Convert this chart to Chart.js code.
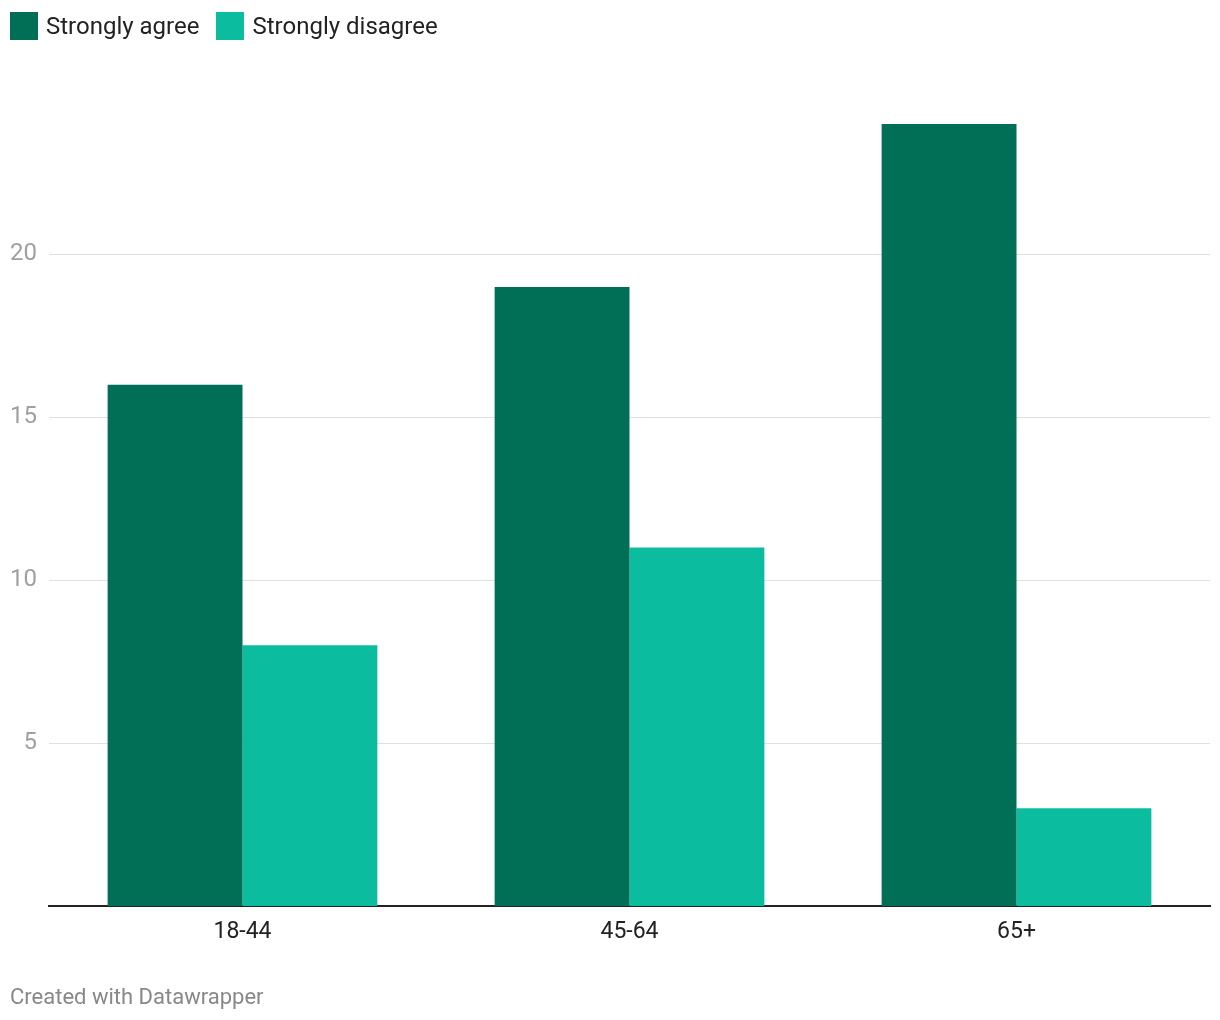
<!DOCTYPE html>
<html>
<head>
<meta charset="utf-8">
<script src="https://cdn.jsdelivr.net/npm/chart.js@4.4.1/dist/chart.umd.min.js"></script>
<style>
    body { margin: 0; background: #fff; font-family: Roboto, sans-serif; }
    #wrap { position: relative; width: 1220px; height: 1020px; }
    #chart { position: absolute; left: 0; top: 0; }
    .legend { position: absolute; left: 10px; top: 12px; height: 28px; display: flex; align-items: center; font-size: 24px; color: #222; }
    .legend .item { display: flex; align-items: center; margin-right: 17px; }
    .legend .box { width: 28px; height: 28px; margin-right: 8px; }
    .footer { position: absolute; left: 10px; top: 984px; font-size: 22px; color: #888; }
</style>
</head>
<body>
<div id="wrap">
    <canvas id="chart" width="1220" height="1020"></canvas>
    <div class="legend" id="legend"></div>
    <div class="footer">Created with Datawrapper</div>
</div>
<script>
// Chart data
const categories = ['18-44', '45-64', '65+'];
const seriesNames = ['Strongly agree', 'Strongly disagree'];
const stronglyAgree = [16, 19, 24];
const stronglyDisagree = [8, 11, 3];
const yTicks = [5, 10, 15, 20];
const colors = ['#006f56', '#0bbc9f'];

document.addEventListener('DOMContentLoaded', function() {
    buildLegend();
    drawChart();
});

function buildLegend() {
    const legend = document.getElementById('legend');
    legend.innerHTML = seriesNames.map((name, i) => `
        <div class="item"><div class="box" style="background:${colors[i]}"></div><span>${name}</span></div>
    `).join('');
}

function drawChart() {
    const ctx = document.getElementById('chart').getContext('2d');
    new Chart(ctx, {
        type: 'bar',
        data: {
            labels: categories,
            datasets: [
                { label: seriesNames[0], data: stronglyAgree, backgroundColor: colors[0] },
                { label: seriesNames[1], data: stronglyDisagree, backgroundColor: colors[1] }
            ]
        },
        options: {
            responsive: false,
            animation: false,
            datasets: { bar: { categoryPercentage: 0.697, barPercentage: 1.0 } },
            layout: { padding: { top: 124, right: 10, bottom: 74, left: 0 } },
            plugins: {
                legend: { display: false },
                tooltip: { enabled: false }
            },
            scales: {
                x: {
                    grid: { display: false, drawTicks: false },
                    border: { color: '#222', width: 2 },
                    ticks: { color: '#222', padding: 12, font: { family: 'Roboto', size: 23 } },
                    afterFit: function(scale) { scale.height = 40; }
                },
                y: {
                    min: 0,
                    max: 24,
                    afterBuildTicks: function(scale) {
                        scale.ticks = yTicks.map(v => ({ value: v }));
                    },
                    grid: { color: '#e0e0e0', lineWidth: 1, drawTicks: false },
                    border: { display: false },
                    ticks: { color: '#a0a0a0', padding: 12, font: { family: 'Roboto', size: 24 } },
                    afterFit: function(scale) { scale.width = 49; }
                }
            }
        }
    });
}
</script>
</body>
</html>
